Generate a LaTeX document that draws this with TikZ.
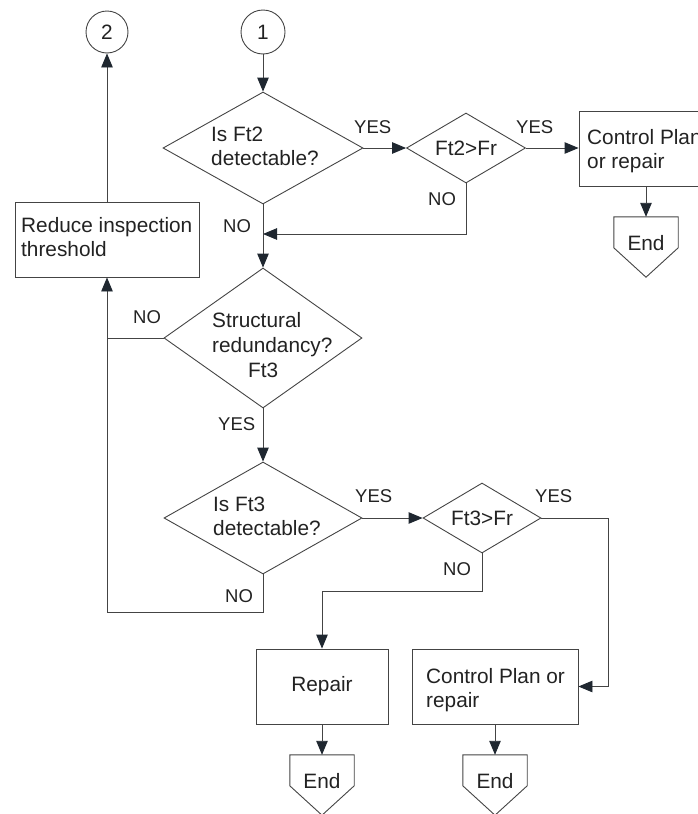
\documentclass[tikz,border=0pt]{standalone}
\usepackage{fontspec}
\setmainfont{Liberation Sans}
\usetikzlibrary{arrows.meta,shapes.geometric,calc}
\definecolor{lncol}{HTML}{444444}
\definecolor{ahcol}{HTML}{1F2730}
\definecolor{txcol}{HTML}{222222}
\newcommand\terminalflag[3]{%
  \node[endbox] (#1) at (#2,#3+30) {};
  \draw[shp] (#1.north west) -- ++(0,31) -- (#1.south) -- ($(#1.north east)+(0,31)$) -- (#1.north east) -- cycle;
  \node[txt,anchor=base] (#1t) at (#2,#3+33) {End};
}
\begin{document}
\begin{tikzpicture}[x=1pt,y=-1pt,
  shp/.style={draw=lncol,line width=0.9pt,inner sep=0pt},
  box/.style={shp,rectangle,minimum height=75pt},
  dia/.style={shp,diamond},
  circ/.style={shp,circle},
  txt/.style={text=txcol,font=\fontsize{20.8}{24.5}\selectfont,inner sep=0pt},
  lbl/.style={text=txcol,font=\fontsize{18.5}{22}\selectfont,inner sep=0pt,anchor=base west},
  endbox/.style={rectangle,draw=none,inner sep=0pt,minimum width=64pt,minimum height=60pt},
  conn/.style={draw=lncol,line width=0.9pt},
  arr/.style={conn,-{Triangle[length=14pt,width=11.5pt,color=ahcol]}},
]
\useasboundingbox (0,0) rectangle (698,814);
\clip (0,0) rectangle (698,814);

% connectors circles
\node[circ,txt,draw=lncol,line width=0.9pt,minimum size=42pt] (c2) at (107,32) {2};
\node[circ,txt,draw=lncol,line width=0.9pt,minimum size=44pt] (c1) at (263,32) {1};

% boxes
\node[box,minimum width=184pt] (rd) at (107,239.5) {};
\node[txt,anchor=base west] (rdt1) at (21,232) {Reduce inspection};
\node[txt,anchor=base west] (rdt2) at (21,256) {threshold};

\node[box,minimum width=134pt] (cp1) at (646,148.5) {};
\node[txt,anchor=base west] (cp1t1) at (587,144) {Control Plan};
\node[txt,anchor=base west] (cp1t2) at (587,168) {or repair};

\node[box,minimum width=132pt,txt,draw=lncol,line width=0.9pt] (rp) at (322,686.5) {Repair};

\node[box,minimum width=166pt] (cp2) at (495,686.5) {};
\node[txt,anchor=base west] (cp2t1) at (426,683) {Control Plan or};
\node[txt,anchor=base west] (cp2t2) at (426,707) {repair};

% diamonds
\node[dia,minimum width=200pt,minimum height=112pt] (d1) at (263,148) {};
\node[txt,anchor=base west] (d1t1) at (211,141) {Is Ft2};
\node[txt,anchor=base west] (d1t2) at (211,165) {detectable?};

\node[dia,txt,draw=lncol,line width=0.9pt,aspect=1.7,minimum width=119pt,minimum height=70pt] (d2) at (466,148) {Ft2>Fr};

\node[dia,minimum width=198pt,minimum height=140pt] (d3) at (263,338) {};
\node[txt,anchor=base west] (d3t1) at (212,327) {Structural};
\node[txt,anchor=base west] (d3t2) at (212,352) {redundancy?};
\node[txt,anchor=base west] (d3t3) at (248,377) {Ft3};

\node[dia,minimum width=198pt,minimum height=112pt] (d4) at (263,518) {};
\node[txt,anchor=base west] (d4t1) at (213,511) {Is Ft3};
\node[txt,anchor=base west] (d4t2) at (213,535) {detectable?};

\node[dia,txt,draw=lncol,line width=0.9pt,aspect=1.7,minimum width=118pt,minimum height=70pt] (d5) at (482,518) {Ft3>Fr};

% end flags
\terminalflag{e1}{646}{217}
\terminalflag{e2}{322}{755}
\terminalflag{e3}{495}{755}

% coordinates
\coordinate (j1) at (263,234);
\coordinate (k1) at (107,612);
\coordinate (q1) at (608,518);
\coordinate (m1) at (322,591);

% connectors
\draw[arr] (c1.south) -- (d1.north);
\draw[arr] (d1.east) -- (d2.west);
\draw[arr] (d2.east) -- (d2.east -| cp1.west);
\draw[arr] (cp1.south) -- (e1.north);
\draw[arr] (d2.south) |- (j1);
\draw[arr] (d1.south) -- (d3.north);
\draw[arr] (d3.west) -| (rd.south);
\draw[arr] (rd.north) -- (c2.south);
\draw[arr] (d3.south) -- (d4.north);
\draw[conn] (d4.south) |- (k1) -- (rd.south |- d3.west);
\draw[arr] (d4.east) -- (d5.west);
\draw[arr] (d5.east) -- (q1) |- (cp2.east);
\draw[arr] (d5.south) |- (m1) -- (rp.north);
\draw[arr] (rp.south) -- (e2.north);
\draw[arr] (cp2.south) -- (e3.north);

% labels
\node[lbl] (l1) at (354,133) {YES};
\node[lbl] (l2) at (516,133) {YES};
\node[lbl] (l3) at (428,205) {NO};
\node[lbl] (l4) at (223,232) {NO};
\node[lbl] (l5) at (133,323) {NO};
\node[lbl] (l6) at (218,430) {YES};
\node[lbl] (l7) at (355,502) {YES};
\node[lbl] (l8) at (225,602) {NO};
\node[lbl] (l9) at (535,502) {YES};
\node[lbl] (l10) at (443,575) {NO};
\end{tikzpicture}
\end{document}
